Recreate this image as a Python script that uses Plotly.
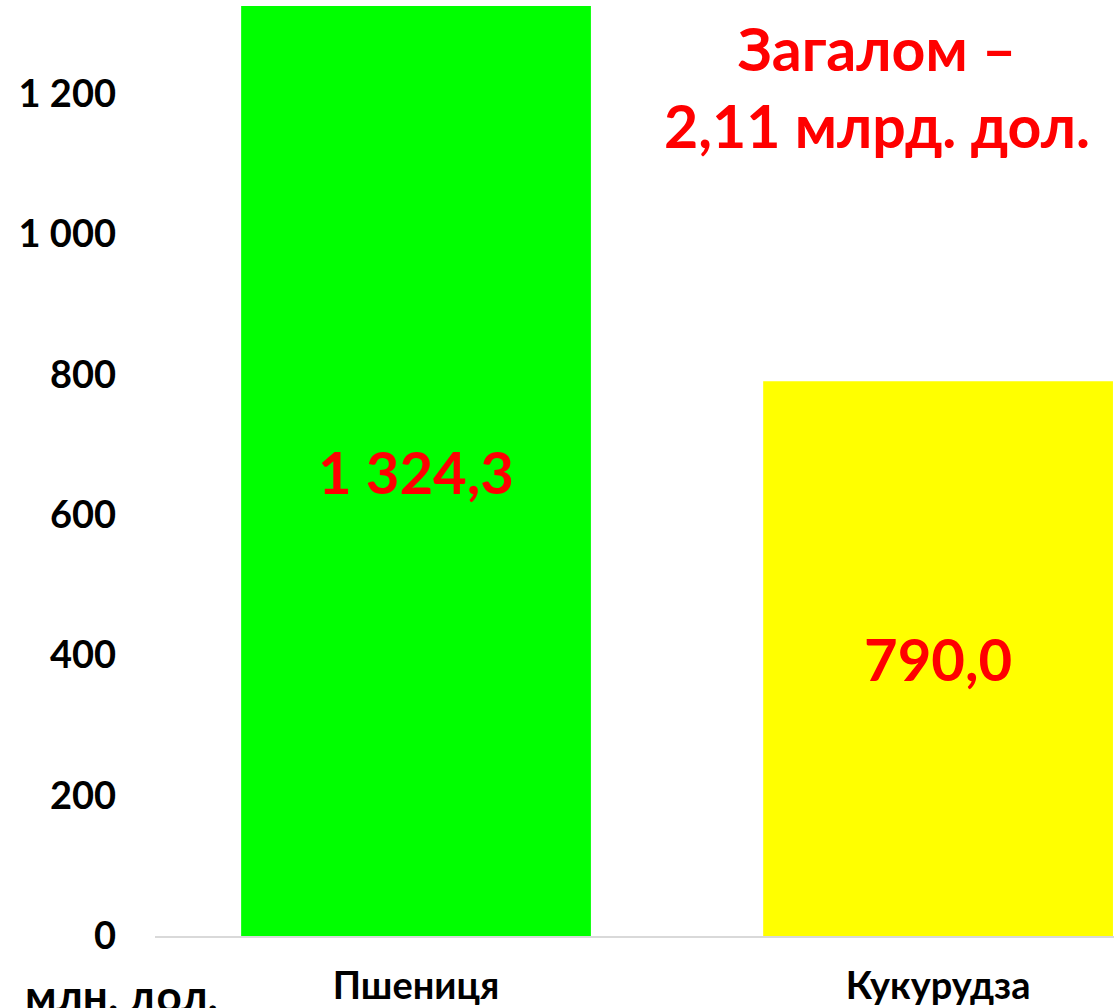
import plotly.graph_objects as go

categories = ["Пшениця", "Кукурудза"]
values = [1324.3, 790.0]
bar_colors = ["#00ff00", "#ffff00"]
tick_vals = [0, 200, 400, 600, 800, 1000, 1200]
tick_text = ["0", "200", "400", "600", "800", "1 000", "1 200"]
total_note = "Загалом –<br>2,11 млрд. дол."
unit_label = "млн. дол."


def fmt(v):
    s = f"{v:,.1f}"
    return s.replace(",", " ").replace(".", ",")


FONT = "Lato"

fig = go.Figure(
    go.Bar(
        x=categories,
        y=values,
        marker=dict(color=bar_colors, line=dict(width=0)),
        width=0.67,
        text=[fmt(v) for v in values],
        textposition="inside",
        insidetextanchor="middle",
        textangle=0,
        textfont=dict(family=FONT, size=58, color="#ff0000", weight="bold"),
        hoverinfo="skip",
    )
)

fig.update_layout(
    width=1114,
    height=1008,
    margin=dict(l=155, r=0, t=6, b=72, autoexpand=False),
    paper_bgcolor="white",
    plot_bgcolor="white",
    showlegend=False,
    xaxis=dict(
        type="category",
        range=[-0.5, 1.337],
        automargin=False,
        showgrid=False,
        showline=True,
        linecolor="#d9d9d9",
        linewidth=1.5,
        ticks="",
        tickfont=dict(family=FONT, size=38, color="black", weight="bold"),
        ticklabelstandoff=16,
        fixedrange=True,
    ),
    yaxis=dict(
        range=[0, 1324.3],
        automargin=False,
        showgrid=False,
        zeroline=False,
        showline=False,
        tickvals=tick_vals,
        ticktext=tick_text,
        tickfont=dict(family=FONT, size=38, color="black", weight="bold"),
        ticklabelstandoff=38,
        fixedrange=True,
    ),
    annotations=[
        dict(
            text=total_note,
            xref="paper", yref="paper",
            x=(877 - 155) / 959, y=1.0 - 5 / 930,
            xanchor="center", yanchor="top",
            showarrow=False,
            font=dict(family=FONT, size=59, color="#ff0000", weight="bold"),
        ),
        dict(
            text=unit_label,
            xref="paper", yref="paper",
            x=(121 - 155) / 959, y=-0.033,
            xanchor="center", yanchor="top",
            showarrow=False,
            font=dict(family=FONT, size=44, color="black", weight="bold"),
        ),
    ],
)

fig.write_html(
    "out.html",
    config={"displayModeBar": False},
    post_script="document.body.style.margin='0';document.body.style.padding='0';",
)
